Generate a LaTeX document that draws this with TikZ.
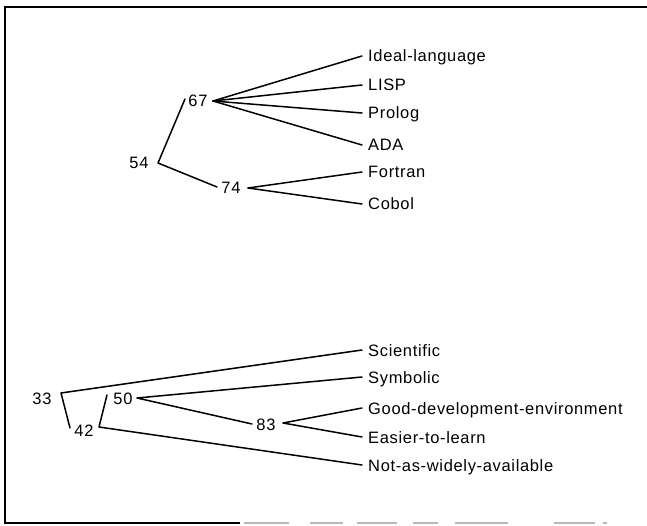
\documentclass[tikz,border=0pt]{standalone}
\usepackage{fontspec}
\setmainfont{Liberation Sans}[LetterSpace=4]
\begin{document}
\begin{tikzpicture}[x=1pt,y=-1pt,
  link/.style={line width=1.5pt, line cap=round, line join=round},
  leaf/.style={anchor=west, inner xsep=6pt, inner ysep=0pt,
    text height=12pt, text depth=0pt, font=\fontsize{16.5}{18}\selectfont},
  score/.style={inner sep=0pt, text height=12pt, text depth=0pt,
    font=\fontsize{16.5}{18}\selectfont}]
\useasboundingbox (0,0) rectangle (647,526);

% frame (the right side is open, the bottom edge fades out)
\draw[line width=1.8pt] (647,7) -- (5,7) -- (5,523) -- (240,523);
\foreach \a/\b in {244/289,310/343,357/397,413/438,455/508,554/595,603/607}
  \draw[gray!55, line width=1.6pt] (\a,523) -- (\b,523);

% ---------- upper tree: languages ----------
\node[leaf] (ideal)   at (362,56)  {Ideal-language};
\node[leaf] (lisp)    at (362,85)  {LISP};
\node[leaf] (prolog)  at (362,113) {Prolog};
\node[leaf] (ada)     at (362,145) {ADA};
\node[leaf] (fortran) at (362,172) {Fortran};
\node[leaf] (cobol)   at (362,204) {Cobol};

\node[score] (n54) at (139,163) {54};
\node[score] (n67) at (198,101) {67};
\node[score] (n74) at (231,188) {74};

\coordinate (c54) at (158,163);
\coordinate (t67) at (185,99);
\coordinate (t74) at (217,187);
\coordinate (f67) at (213,101);
\coordinate (f74) at (248,188);

\draw[link] (t67) -- (c54) -- (t74);
\foreach \leafnode in {ideal,lisp,prolog,ada}
  \draw[link] (f67) -- (\leafnode.west);
\foreach \leafnode in {fortran,cobol}
  \draw[link] (f74) -- (\leafnode.west);

% ---------- lower tree: attributes ----------
\node[leaf] (sci)   at (362,350) {Scientific};
\node[leaf] (sym)   at (362,377) {Symbolic};
\node[leaf] (good)  at (362,408) {Good-development-environment};
\node[leaf] (easy)  at (362,437) {Easier-to-learn};
\node[leaf] (avail) at (362,465) {Not-as-widely-available};

\node[score] (n33) at (42,398)  {33};
\node[score] (n42) at (84,430)  {42};
\node[score] (n50) at (123,398) {50};
\node[score] (n83) at (266,424) {83};

\coordinate (c33) at (61,393);
\coordinate (t42) at (70,428);
\coordinate (c42) at (99,427);
\coordinate (t50) at (107,395);
\coordinate (f50) at (137,398);
\coordinate (t83) at (252,424);
\coordinate (f83) at (283,423);

\draw[link] (sci.west) -- (c33) -- (t42);
\draw[link] (t50) -- (c42) -- (avail.west);
\draw[link] (sym.west) -- (f50) -- (t83);
\draw[link] (good.west) -- (f83) -- (easy.west);
\end{tikzpicture}
\end{document}
